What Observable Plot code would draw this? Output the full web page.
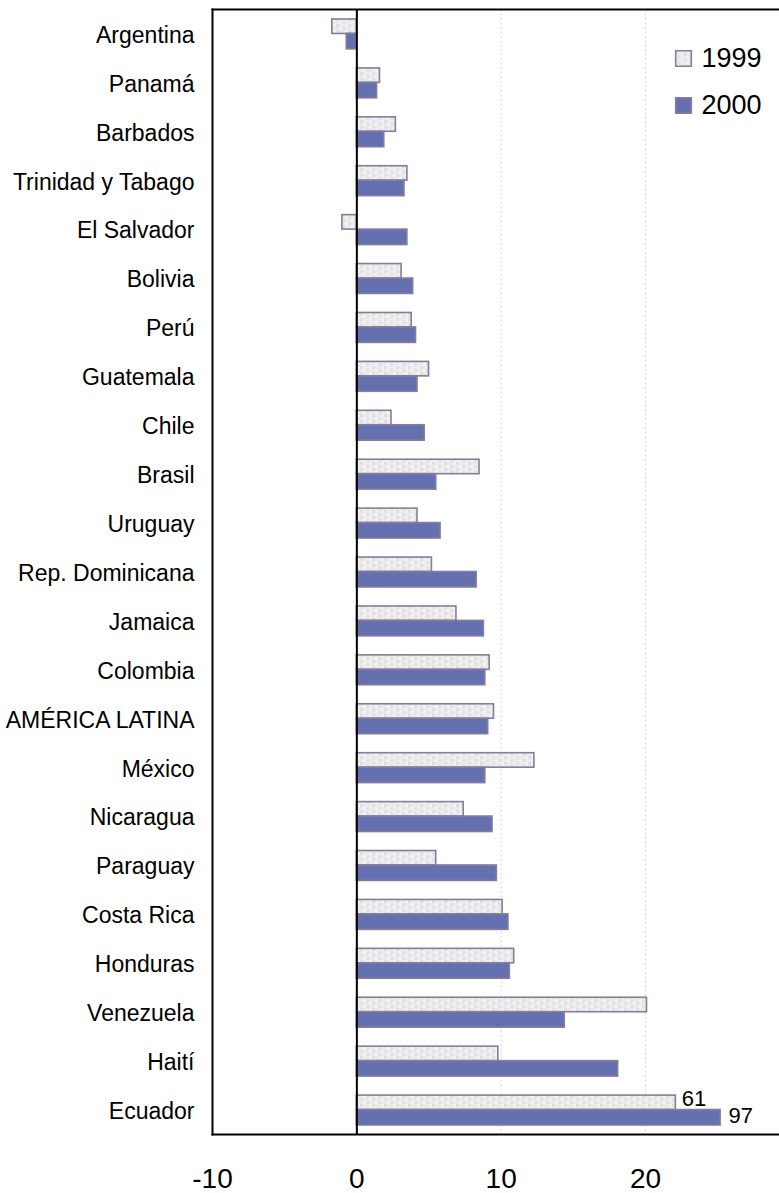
<!DOCTYPE html>
<html><head><meta charset="utf-8">
<script src="https://cdn.jsdelivr.net/npm/d3@7"></script>
<script src="https://cdn.jsdelivr.net/npm/@observablehq/plot@0.6"></script>
<style>body{margin:0;background:#fff;}</style>
</head><body><div id="chart"></div>
<script>
const countries = ["Argentina","Panamá","Barbados","Trinidad y Tabago","El Salvador","Bolivia","Perú","Guatemala","Chile","Brasil","Uruguay","Rep. Dominicana","Jamaica","Colombia","AMÉRICA LATINA","México","Nicaragua","Paraguay","Costa Rica","Honduras","Venezuela","Haití","Ecuador"];
const v1999 = [-1.7,1.6,2.7,3.5,-1.0,3.1,3.8,5.0,2.4,8.5,4.2,5.2,6.9,9.2,9.5,12.3,7.4,5.5,10.1,10.9,20.1,9.8,61];
const v2000 = [-0.7,1.4,1.9,3.3,3.5,3.9,4.1,4.2,4.7,5.5,5.8,8.3,8.8,8.9,9.1,8.9,9.4,9.7,10.5,10.6,14.4,18.1,97];
const series = ["1999","2000"];
const xTicks = [-10,0,10,20];
const gridTicks = [10,20];
// Ecuador's bars are drawn cut short (off-scale); their true values are printed beside them
const brokenCountry = "Ecuador";
const brokenLength = {"1999": 22.1, "2000": 25.2};

const rows = [];
countries.forEach((c, i) => {
  [["1999", v1999[i]], ["2000", v2000[i]]].forEach(([yr, v]) => {
    rows.push({country: c, year: yr, value: v, shown: c === brokenCountry ? brokenLength[yr] : v});
  });
});
const r99 = rows.filter(d => d.year === "1999");
const r00 = rows.filter(d => d.year === "2000");

const FILL99 = "#e7e7e7", FILL00 = "#6570b0", EDGE = "#877c9c";

const svg = Plot.plot({
  width: 779, height: 1193,
  marginLeft: 212, marginRight: 0, marginTop: 9, marginBottom: 59,
  style: {fontFamily: "'Liberation Sans', Arial, sans-serif", color: "#000", background: "#fff"},
  x: {domain: [-10, 29.28], label: null},
  y: {domain: countries, padding: 0, round: false, label: null},
  marks: [
    Plot.ruleX(gridTicks, {stroke: "#c8c8e8", strokeWidth: 1, strokeDasharray: "1.5,3"}),
    Plot.barX(r99, {x: "shown", y: "country", fill: FILL99, stroke: EDGE, strokeWidth: 1.6, insetTop: 10, insetBottom: 24.45}),
    Plot.barX(r00, {x: "shown", y: "country", fill: FILL00, stroke: EDGE, strokeWidth: 1.6, insetTop: 24.45, insetBottom: 9}),
    Plot.ruleX([0], {stroke: "#000", strokeWidth: 2}),
    Plot.frame({anchor: "top", stroke: "#000", strokeWidth: 2}),
    Plot.frame({anchor: "left", stroke: "#000", strokeWidth: 2}),
    Plot.frame({anchor: "bottom", stroke: "#000", strokeWidth: 2}),
    Plot.text(r99.filter(d => d.country === brokenCountry), {x: "shown", y: "country", text: d => String(d.value), textAnchor: "start", dx: 6, dy: -11, fontSize: 22}),
    Plot.text(r00.filter(d => d.country === brokenCountry), {x: "shown", y: "country", text: d => String(d.value), textAnchor: "start", dx: 8, dy: 6, fontSize: 22}),
    Plot.axisY({tickSize: 0, tickPadding: 18, fontSize: 23, dy: 1.5, label: null}),
    Plot.axisX(xTicks, {tickSize: 0, tickPadding: 34, fontSize: 28, label: null, tickFormat: d => String(d)}),
    // legend
    Plot.dot([series[0]], {frameAnchor: "top-right", dx: -96, dy: 49, symbol: "square", r: 8.8, fill: FILL99, stroke: EDGE, strokeWidth: 1.6}),
    Plot.dot([series[1]], {frameAnchor: "top-right", dx: -96, dy: 96, symbol: "square", r: 8.8, fill: FILL00, stroke: EDGE, strokeWidth: 1.6}),
    Plot.text([series[0]], {frameAnchor: "top-right", dx: -78, dy: 49, text: d => d, textAnchor: "start", lineAnchor: "middle", fontSize: 27}),
    Plot.text([series[1]], {frameAnchor: "top-right", dx: -78, dy: 96, text: d => d, textAnchor: "start", lineAnchor: "middle", fontSize: 27})
  ]
});

// light textured fill for the 1999 bars
const ns = "http://www.w3.org/2000/svg";
const defs = document.createElementNS(ns, "defs");
defs.innerHTML = `<pattern id="tex99" width="12" height="6" patternUnits="userSpaceOnUse">
  <rect width="12" height="6" fill="#ebebeb"/>
  <rect x="0" y="0" width="3" height="3" fill="#e0e0e0"/>
  <rect x="6" y="3" width="3" height="3" fill="#e2e2e2"/>
  <rect x="3" y="3" width="3" height="3" fill="#f3f3f3"/>
  <rect x="9" y="0" width="3" height="3" fill="#f1f1f1"/>
</pattern>`;
svg.insertBefore(defs, svg.firstChild);
d3.select(svg).selectAll(`[fill="${FILL99}"]`).attr("fill", "url(#tex99)");

document.getElementById("chart").appendChild(svg);
</script>
</body></html>
